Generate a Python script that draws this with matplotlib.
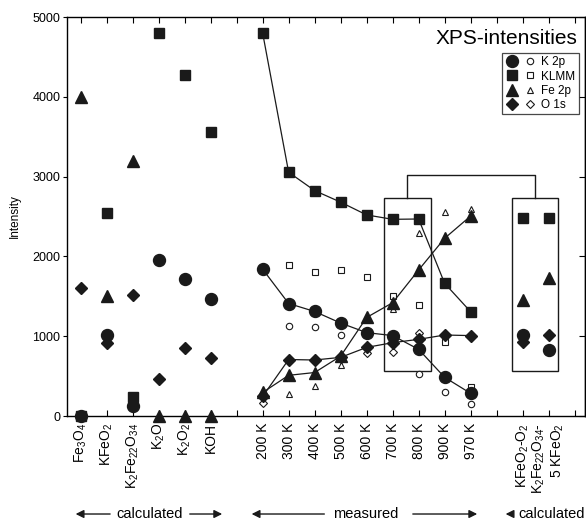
import numpy as np
import matplotlib
matplotlib.use("Agg")
import matplotlib.pyplot as plt
from matplotlib.lines import Line2D
from matplotlib.patches import Rectangle
from matplotlib.legend_handler import HandlerTuple

plt.rcParams['font.family'] = ['Liberation Sans', 'DejaVu Sans']
plt.rcParams['mathtext.fontset'] = 'custom'
plt.rcParams['mathtext.rm'] = 'Liberation Sans'
plt.rcParams['mathtext.it'] = 'Liberation Sans'
plt.rcParams['mathtext.default'] = 'regular'

# --- data ---------------------------------------------------------------
calc_labels = ['Fe$_3$O$_4$', 'KFeO$_2$', 'K$_2$Fe$_{22}$O$_{34}$',
               'K$_2$O', 'K$_2$O$_2$', 'KOH']
meas_labels = ['200 K', '300 K', '400 K', '500 K', '600 K',
               '700 K', '800 K', '900 K', '970 K']
calc2_labels = ['KFeO$_2$-O$_2$', 'K$_2$Fe$_{22}$O$_{34}$-\n5 KFeO$_2$']

# calculated (left group)
k2p_calc = [0, 1020, 125, 1950, 1720, 1470]
klmm_calc = [0, 2550, 240, 4800, 4270, 3560]
fe2p_calc = [4000, 1500, 3200, 0, 0, 0]
o1s_calc = [1610, 910, 1520, 470, 850, 730]

# measured, filled symbols (connected)
k2p_meas = [1840, 1410, 1310, 1165, 1045, 1008, 836, 485, 284]
klmm_meas = [4800, 3055, 2825, 2680, 2520, 2465, 2469, 1663, 1307]
fe2p_meas = [295, 510, 545, 750, 1235, 1420, 1830, 2227, 2506]
o1s_meas = [245, 708, 702, 735, 860, 919, 961, 1015, 1008]

# measured, open symbols
k2p_open = [np.nan, 1132, 1111, 1018, np.nan, np.nan, 526, 305, 150]
klmm_open = [np.nan, 1892, 1809, 1830, 1746, 1504, 1391, 924, 360]
fe2p_open = [np.nan, 272, 380, 639, np.nan, 1337, 2297, 2553, 2590]
o1s_open = [159, np.nan, np.nan, np.nan, 785, 806, 1044, np.nan, np.nan]

# calculated (right group)
k2p_calc2 = [1011, 830]
klmm_calc2 = [2478, 2478]
fe2p_calc2 = [1454, 1735]
o1s_calc2 = [931, 1011]

# --- positions -----------------------------------------------------------
x_calc = np.arange(len(calc_labels))
x_meas = np.arange(len(meas_labels)) + len(calc_labels) + 1
x_calc2 = np.arange(len(calc2_labels)) + x_meas[-1] + 2

fig = plt.figure(figsize=(5.86, 5.21), dpi=100)
ax = fig.add_axes([0.1148, 0.2015, 0.8835, 0.7658])

series = [
    ('K 2p', 'o', 8.6, 4.6, k2p_calc, k2p_meas, k2p_open, k2p_calc2),
    ('KLMM', 's', 7.6, 4.6, klmm_calc, klmm_meas, klmm_open, klmm_calc2),
    ('Fe 2p', '^', 8.8, 5.0, fe2p_calc, fe2p_meas, fe2p_open, fe2p_calc2),
    ('O 1s', 'D', 6.2, 3.8, o1s_calc, o1s_meas, o1s_open, o1s_calc2),
]

handles = []
labels = []
for name, mk, ms, ms_open, yc, ym, yo, yc2 in series:
    ax.plot(x_calc, yc, ls='none', marker=mk, ms=ms, color='#1a1a1a', clip_on=False, zorder=3)
    ax.plot(x_meas, ym, ls='-', lw=0.9, marker=mk, ms=ms, color='#1a1a1a', zorder=3)
    ax.plot(x_meas, yo, ls='none', marker=mk, ms=ms_open, mfc='white', mec='#1a1a1a',
            mew=0.8, zorder=2)
    ax.plot(x_calc2, yc2, ls='none', marker=mk, ms=ms, color='#1a1a1a', zorder=3)
    h_f = Line2D([], [], ls='none', marker=mk, ms=ms, color='#1a1a1a')
    h_o = Line2D([], [], ls='none', marker=mk, ms=ms_open, mfc='white', mec='#1a1a1a', mew=0.8)
    handles.append((h_f, h_o))
    labels.append(name)

# boxes around 700/800 K and the right calculated group, joined by a bracket
box_lo, box_hi = 564, 2736
i700 = x_meas[5]
i800 = x_meas[6]
ax.add_patch(Rectangle((i700 - 0.33, box_lo), (i800 - i700) + 0.79, box_hi - box_lo,
                       fill=False, lw=1.0, ec='#1a1a1a', zorder=1))
ax.add_patch(Rectangle((x_calc2[0] - 0.4, box_lo), (x_calc2[1] - x_calc2[0]) + 0.77,
                       box_hi - box_lo, fill=False, lw=1.0, ec='#1a1a1a', zorder=1))
bx1 = i700 + 0.54
bx2 = x_calc2[0] + 0.47
ax.plot([bx1, bx1, bx2, bx2], [box_hi, 3020, 3020, box_hi], color='#1a1a1a', lw=1.0)

# axes setup
ax.set_xlim(-0.515, 19.4)
ax.set_ylim(0, 5000)
all_x = np.arange(0, 20)
tick_lab = [''] * len(all_x)
for xs, ls_ in [(x_calc, calc_labels), (x_meas, meas_labels), (x_calc2, calc2_labels)]:
    for xx, ll in zip(xs, ls_):
        tick_lab[xx] = ll
ax.set_xticks(all_x)
ax.set_xticklabels(tick_lab, rotation=90, fontsize=10, va='top', ha='center',
                   multialignment='right')
ax.tick_params(axis='x', direction='in', top=True, length=4, width=0.8, pad=5)
ax.set_yticks(np.arange(0, 5001, 1000))
ax.tick_params(axis='y', direction='out', length=3, width=0.8, labelsize=9, pad=2)
sec = ax.secondary_yaxis('right')
sec.set_yticks(np.arange(0, 5001, 1000))
sec.tick_params(direction='in', length=4, width=0.8, labelright=False)
sec.spines['right'].set_linewidth(1.0)
for sp in ax.spines.values():
    sp.set_linewidth(1.0)
ax.set_ylabel('Intensity', fontsize=8.5, labelpad=8)

ax.text(0.985, 0.947, 'XPS-intensities', transform=ax.transAxes,
        ha='right', va='center', fontsize=15)

leg = ax.legend(handles, labels, handler_map={tuple: HandlerTuple(ndivide=None, pad=0.3)},
                loc='upper right', bbox_to_anchor=(0.988, 0.91), fontsize=8.5,
                frameon=True, fancybox=False, edgecolor='#1a1a1a', handlelength=2.6,
                handletextpad=0.4, labelspacing=0.18, borderpad=0.3, borderaxespad=0)
leg.get_frame().set_linewidth(0.9)

# group annotations below the tick labels
ya = -0.2456
arrow = dict(arrowstyle='-|>', color='#1a1a1a', lw=1.0, mutation_scale=12)
trans = ax.get_xaxis_transform()
ax.annotate('', xy=(-0.30, ya), xytext=(1.24, ya), xycoords=trans, textcoords=trans,
            arrowprops=arrow, annotation_clip=False)
ax.annotate('', xy=(5.55, ya), xytext=(4.09, ya), xycoords=trans, textcoords=trans,
            arrowprops=arrow, annotation_clip=False)
ax.text(2.67, ya, 'calculated', transform=trans, ha='center', va='center', fontsize=10.5)
ax.annotate('', xy=(6.47, ya), xytext=(9.48, ya), xycoords=trans, textcoords=trans,
            arrowprops=arrow, annotation_clip=False)
ax.annotate('', xy=(15.36, ya), xytext=(12.67, ya), xycoords=trans, textcoords=trans,
            arrowprops=arrow, annotation_clip=False)
ax.text(10.95, ya, 'measured', transform=trans, ha='center', va='center', fontsize=10.5)
ax.annotate('', xy=(16.24, ya), xytext=(16.72, ya), xycoords=trans, textcoords=trans,
            arrowprops=arrow, annotation_clip=False)
ax.text(16.85, ya, 'calculated', transform=trans, ha='left', va='center', fontsize=10.5)

fig.savefig('out.png', dpi=100)
